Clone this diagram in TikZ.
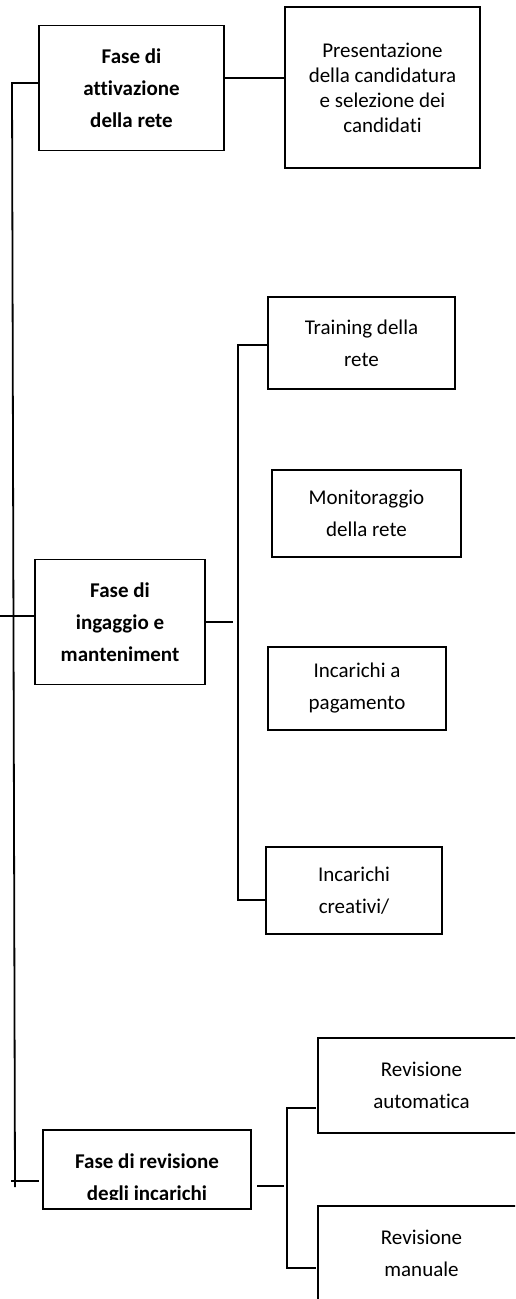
\documentclass[tikz,border=0pt]{standalone}
\usepackage{fontspec}
\setmainfont{Carlito}[Ligatures={NoCommon}]
\begin{document}
\begin{tikzpicture}[x=1pt,y=-1pt,
  box/.style={draw, line width=1.8pt, inner sep=0pt, align=center,
    font=\fontsize{21}{32}\selectfont},
  phase/.style={box, font=\fontsize{21}{32}\selectfont\bfseries},
  link/.style={line width=1.8pt}]
\useasboundingbox (0,0) rectangle (515,1299);
\clip (0,0) rectangle (515,1299);
% phase boxes
\node[phase, minimum width=185pt, minimum height=125pt] (A) at (131.5,88)
  {Fase di\\attivazione\\della rete};
\node[phase, minimum width=170pt, minimum height=125pt] (I) at (120,622)
  {Fase di\\ingaggio e\\manteniment};
\node[box, minimum width=208pt, minimum height=79pt] (R) at (147,1169.5) {};
\begin{scope}
  \clip (43,1130) rectangle (251,1199);
  \node[font=\fontsize{21}{32}\selectfont\bfseries, align=center, inner sep=0pt]
    (Rt) at (147,1179) {Fase di revisione\\degli incarichi};
\end{scope}
% detail boxes
\node[box, minimum width=195pt, minimum height=161pt,
  font=\fontsize{21}{25}\selectfont] (B) at (382.5,87.5)
  {Presentazione\\della candidatura\\e selezione dei\\candidati};
\node[box, minimum width=187pt, minimum height=92pt] (T) at (361.5,343)
  {Training della\\rete};
\node[box, minimum width=189pt, minimum height=87pt] (M) at (366.5,513.5)
  {Monitoraggio\\della rete};
\node[box, minimum width=178pt, minimum height=83pt] (P) at (357,688.5)
  {Incarichi a\\pagamento};
\node[box, minimum width=176pt, minimum height=87pt] (C) at (354,890.5)
  {Incarichi\\creativi/};
\node[box, minimum width=207pt, minimum height=95pt] (RA) at (421.5,1085.5)
  {Revisione\\automatica};
\node[box, minimum width=207pt, minimum height=94pt] (RM) at (421.5,1253)
  {Revisione\\manuale};
% coordinates
\coordinate (s1) at (12,83);
\coordinate (s2) at (15,1187);
\coordinate (i0) at (0,616);
\coordinate (r0) at (11,1181);
\coordinate (r1) at (39,1181);
\coordinate (ie) at (233,622);
\coordinate (b1) at (238,345);
\coordinate (b2) at (238,900);
\coordinate (re0) at (257,1186);
\coordinate (re1) at (284,1186);
\coordinate (c1) at (287,1108);
\coordinate (c2) at (287,1268);
\coordinate (c1e) at (316,1108);
\coordinate (c2e) at (316,1268);
% connectors
\draw[link] (A.east |- 0,78) -- (B.west |- 0,78);
\draw[link] (A.west |- 0,83) -- (s1) -- (s2);
\draw[link] (i0) -- (I.west |- 0,616);
\draw[link] (r0) -- (r1);
\draw[link] (I.east |- 0,622) -- (ie);
\draw[link] (T.west |- 0,345) -- (b1) -- (b2) -- (C.west |- 0,900);
\draw[link] (re0) -- (re1);
\draw[link] (c1e) -- (c1) -- (c2) -- (c2e);
\end{tikzpicture}
\end{document}
